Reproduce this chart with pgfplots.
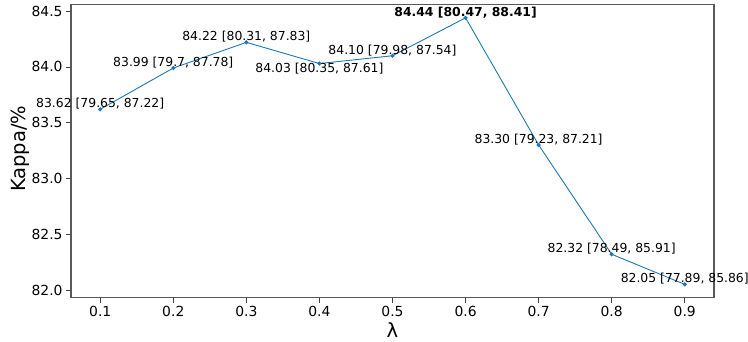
\documentclass[border=0pt]{standalone}
\usepackage{fontspec}
\setmainfont{DejaVu Sans}
\usepackage{pgfplots}
\pgfplotsset{compat=1.18}
\definecolor{mplblue}{RGB}{31,119,180}
\begin{document}
\begin{tikzpicture}
\path[use as bounding box] (-71pt,-43.3pt) rectangle (677pt,297.7pt);
\begin{axis}[
  at={(0,0)}, anchor=south west,
  scale only axis, width=643pt, height=293.2pt,
  xmin=0.06, xmax=0.94, ymin=81.9305, ymax=84.5595,
  xtick={0.1,0.2,0.3,0.4,0.5,0.6,0.7,0.8,0.9},
  ytick={82.0,82.5,83.0,83.5,84.0,84.5},
  xtick pos=bottom, ytick pos=left,
  xticklabel style={/pgf/number format/.cd,fixed,fixed zerofill,precision=1,assume math mode=true},
  yticklabel style={/pgf/number format/.cd,fixed,fixed zerofill,precision=1,assume math mode=true},
  tick label style={font=\fontsize{13.9}{16}\selectfont},
  tick align=outside, major tick length=4.9pt,
  every tick/.style={black!75, line width=0.8pt},
  axis line style={black!65, line width=1.1pt},
  xlabel={λ}, ylabel={Kappa/\%},
  label style={font=\fontsize{19.5}{22}\selectfont},
  xlabel style={at={(axis description cs:0.5,-0.109)}, anchor=center},
  ylabel style={at={(axis description cs:-0.0793,0.508)}, anchor=center},
  clip=false,
]
\addplot[color=mplblue, line width=0.9pt, mark=*, mark size=1.6pt] coordinates {
(0.1,83.62) (0.2,83.99) (0.3,84.22) (0.4,84.03) (0.5,84.10)
(0.6,84.44) (0.7,83.30) (0.8,82.32) (0.9,82.05)
};
\begin{scope}[every node/.style={font=\fontsize{12.4}{14}\selectfont, inner sep=0pt, outer sep=0pt}]
\node[anchor=south] at (axis cs:0.1,83.62) {83.62 [79.65, 87.22]};
\node[anchor=south] at (axis cs:0.2,83.99) {83.99 [79.7, 87.78]};
\node[anchor=south] at (axis cs:0.3,84.22) {84.22 [80.31, 87.83]};
\node[anchor=north] at (axis cs:0.4,84.03) {84.03 [80.35, 87.61]};
\node[anchor=south] at (axis cs:0.5,84.10) {84.10 [79.98, 87.54]};
\node[anchor=south] at (axis cs:0.6,84.44) {\bfseries 84.44 [80.47, 88.41]};
\node[anchor=south] at (axis cs:0.7,83.30) {83.30 [79.23, 87.21]};
\node[anchor=south] at (axis cs:0.8,82.32) {82.32 [78.49, 85.91]};
\node[anchor=south] at (axis cs:0.9,82.05) {82.05 [77.89, 85.86]};
\end{scope}
\end{axis}
\end{tikzpicture}
\end{document}
